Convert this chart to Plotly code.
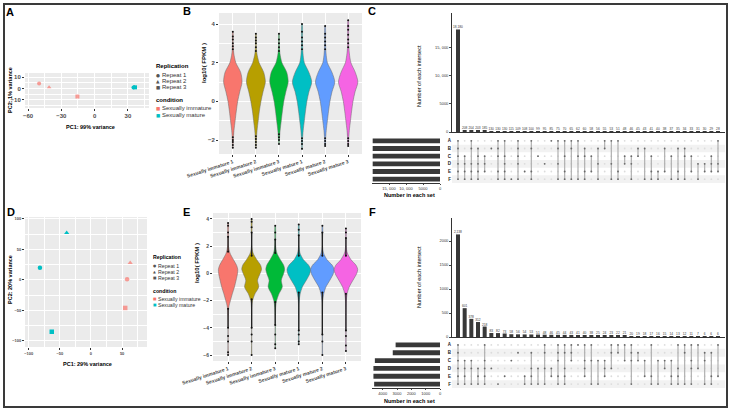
import plotly.graph_objects as go

W, H = 732, 412
FONT = "Liberation Sans"

# ------------------------------------------------------------------ data
samples = ["Sexually immature 1", "Sexually immature 2", "Sexually immature 3",
           "Sexually mature 1", "Sexually mature 2", "Sexually mature 3"]
violin_colors = ["#F8766D", "#B79F00", "#00BA38", "#00BFC4", "#619CFF", "#F564E3"]
replicates = ["Repeat 1", "Repeat 2", "Repeat 3"]
conditions = ["Sexually immature", "Sexually mature"]
cond_colors = ["#F8766D", "#00BFC4"]
rep_symbols = ["circle", "triangle-up", "square"]

# Panel A PCA (PC1 99%, PC2 1%)
a_pc1_immature = [-50.0, -41.0, -15.5]
a_pc2_immature = [4.4, 1.0, -7.0]
a_pc1_mature = [35.0, 35.8, 36.4]
a_pc2_mature = [0.8, 1.4, 1.0]

# Panel D PCA (PC1 29%, PC2 20%)
d_pc1_immature = [58.0, 63.0, 55.0]
d_pc2_immature = [1.0, 28.0, -46.0]
d_pc1_mature = [-82.0, -39.0, -63.0]
d_pc2_mature = [20.0, 77.0, -85.0]

# Panel B violins: half-widths (category units) at log10(FPKM) levels
b_levels = [-2.0, -1.5, -1.0, -0.5, 0.0, 0.5, 1.0, 1.5, 2.0, 2.5, 3.0]
b_halfwidth = [
    [0.02, 0.05, 0.10, 0.15, 0.21, 0.30, 0.40, 0.34, 0.13, 0.04, 0.015],
    [0.02, 0.05, 0.10, 0.15, 0.22, 0.31, 0.41, 0.34, 0.14, 0.04, 0.015],
    [0.02, 0.05, 0.10, 0.15, 0.21, 0.30, 0.40, 0.34, 0.13, 0.04, 0.015],
    [0.02, 0.05, 0.10, 0.15, 0.21, 0.30, 0.42, 0.30, 0.10, 0.04, 0.02],
    [0.02, 0.05, 0.10, 0.15, 0.21, 0.30, 0.42, 0.30, 0.10, 0.04, 0.02],
    [0.02, 0.05, 0.10, 0.15, 0.21, 0.30, 0.42, 0.31, 0.12, 0.05, 0.02],
]
b_min = [-2.4, -2.4, -2.2, -2.5, -2.3, -2.3]
b_max = [3.6, 3.5, 3.5, 4.0, 3.9, 4.2]
b_q1 = [-0.10, 0.00, -0.05, -0.05, -0.05, -0.05]
b_median = [0.72, 0.78, 0.72, 0.72, 0.72, 0.68]
b_q3 = [1.20, 1.22, 1.20, 1.20, 1.20, 1.20]
b_lowerfence = [-1.75, -1.70, -1.60, -1.80, -1.80, -1.80]
b_upperfence = [2.60, 2.50, 2.50, 2.60, 2.60, 2.70]
b_out_high = [[2.7, 2.85, 3.0, 3.2, 3.35, 3.6], [2.6, 2.8, 3.0, 3.15, 3.3, 3.5],
              [2.6, 2.8, 3.0, 3.2, 3.5], [2.7, 2.9, 3.1, 3.3, 3.6, 4.0],
              [2.7, 2.9, 3.1, 3.3, 3.5, 3.9], [2.8, 3.0, 3.2, 3.45, 3.7, 3.9, 4.2]]
b_out_low = [[-1.85, -2.0, -2.1, -2.25, -2.4], [-1.8, -1.95, -2.1, -2.25, -2.4],
             [-1.7, -1.85, -2.0, -2.2], [-1.9, -2.05, -2.2, -2.45],
             [-1.9, -2.05, -2.2, -2.3], [-1.9, -2.05, -2.2, -2.3]]

# Panel E violins
e_levels = [-2.5, -2.0, -1.5, -1.0, -0.5, 0.0, 0.3, 0.6, 1.0, 1.5, 2.0]
e_halfwidth = [
    [0.03, 0.10, 0.18, 0.27, 0.34, 0.40, 0.41, 0.36, 0.23, 0.08, 0.02],
    [0.01, 0.04, 0.14, 0.30, 0.25, 0.36, 0.42, 0.38, 0.22, 0.06, 0.01],
    [0.02, 0.06, 0.16, 0.30, 0.26, 0.36, 0.40, 0.36, 0.22, 0.07, 0.02],
    [0.01, 0.02, 0.06, 0.15, 0.32, 0.47, 0.50, 0.42, 0.20, 0.05, 0.01],
    [0.01, 0.02, 0.06, 0.15, 0.32, 0.47, 0.50, 0.42, 0.20, 0.05, 0.01],
    [0.01, 0.02, 0.05, 0.14, 0.30, 0.46, 0.50, 0.43, 0.22, 0.06, 0.01],
]
e_min = [-6.0, -6.0, -5.5, -5.2, -6.0, -5.7]
e_max = [3.7, 4.0, 3.5, 3.6, 3.5, 3.3]
e_q1 = [-0.95, -0.70, -1.00, -0.38, -0.38, -0.40]
e_median = [-0.25, -0.35, -0.30, 0.10, 0.05, 0.10]
e_q3 = [0.20, 0.05, 0.25, 0.35, 0.35, 0.35]
e_lowerfence = [-2.5, -1.8, -2.1, -1.4, -1.4, -1.5]
e_upperfence = [1.5, 1.2, 1.5, 1.3, 1.3, 1.3]
# dense runs of outliers (start, end) and isolated outliers
e_run_high = [[1.6, 2.7], [1.3, 3.0], [1.5, 2.5], [1.3, 2.8], [1.3, 3.0], [1.3, 2.6]]
e_run_low = [[-2.6, -4.0], [-1.9, -4.0], [-2.1, -3.8], [-1.4, -4.2], [-1.4, -4.5], [-1.5, -4.2]]
e_out_sparse = [[3.0, 3.5, 3.7, -4.6, -5.0, -5.8, -6.0], [3.4, 3.8, 4.0, -4.5, -5.0, -6.0],
                [3.0, 3.5, -4.5, -5.2, -5.5], [3.2, 3.6, -4.5, -5.0, -5.2],
                [3.5, -5.0, -6.0], [3.0, 3.3, -4.6, -5.3, -5.7]]

# Panel C UpSet
set_names = ["A", "B", "C", "D", "E", "F"]
c_set_sizes = [19800, 19800, 19800, 19800, 19800, 19800]
c_values = [18180, 208, 204, 203, 185, 130, 130, 130, 115, 109, 108, 100, 99, 95, 85, 75,
            70, 65, 62, 60, 58, 56, 55, 53, 51, 48, 46, 45, 43, 41, 40, 38, 37, 35, 34, 33,
            31, 30, 29, 28]
c_sets = ["ABCDEF", "CDEF", "ABDEF", "BCDEF", "CDE", "B", "ABCEF", "ACDEF", "F", "ABCDF",
          "E", "ABEF", "C", "D", "A", "ABDF", "ACEF", "ABF", "ACF", "BCEF",
          "CE", "BDF", "AB", "ADF", "AEF", "CD", "CDF", "BC", "BF", "CEF",
          "EF", "BE", "CF", "BEF", "BCF", "CE", "DF", "DE", "CDE", "ADE"]

# Panel F UpSet
f_set_sizes = [3100, 3300, 4550, 4650, 4650, 4600]
f_values = [2138, 601, 378, 312, 218, 83, 82, 73, 58, 56, 54, 53, 51, 48, 46, 45, 44, 43,
            41, 40, 38, 25, 24, 23, 22, 21, 20, 19, 18, 17, 16, 15, 14, 13, 12, 11, 7, 6, 6, 6]
f_sets = ["ABCDEF", "CDEF", "CDF", "DEF", "ACDEF", "D", "F", "E", "C", "B",
          "EF", "BDEF", "DF", "ABDF", "DE", "ABCEF", "ABDEF", "ABC", "A", "ACDE",
          "ACF", "CF", "CDE", "ABD", "AB", "AC", "ABCF", "BC", "CE", "AEF",
          "CF", "CD", "CEF", "ADEF", "ABF", "ACDF", "AD", "BCF", "BEF", "AE"]


# ------------------------------------------------------------------ helpers
def xdom(a, b):
    return [a / W, b / W]


def ydom(top, bottom):
    return [1 - bottom / H, 1 - top / H]


fig = go.Figure()


def ann(text, x, y, size, bold=False, color="#000000", xanchor="center",
        yanchor="middle", angle=0, family=FONT):
    fig.add_annotation(text=text, x=x / W, y=1 - y / H, xref="paper", yref="paper",
                       showarrow=False, textangle=angle, xanchor=xanchor, yanchor=yanchor,
                       borderpad=0,
                       font=dict(size=size, color=color, family=family,
                                 weight="bold" if bold else "normal"))


def gg_axis(domain, rng, tickvals, anchor, fs=6, ticktext=None, minor_vals=None,
            tickangle=0, grid=True):
    d = dict(domain=domain, range=rng, tickvals=tickvals, anchor=anchor,
             automargin=False,
             showgrid=grid, gridcolor="white", gridwidth=0.9, zeroline=False,
             showline=False, ticks="outside", ticklen=2, tickcolor="#333333",
             tickwidth=0.6, tickangle=tickangle,
             tickfont=dict(size=fs, color="#4D4D4D", family=FONT, weight="bold"))
    if ticktext is not None:
        d["ticktext"] = ticktext
    if minor_vals is not None:
        d["minor"] = dict(tickvals=minor_vals, showgrid=True, gridcolor="white",
                          gridwidth=0.45, ticks="")
    return d


def gray_panel(n):
    suffix = "" if n == 1 else str(n)
    fig.add_shape(type="rect", xref=f"x{suffix} domain", yref=f"y{suffix} domain",
                  x0=0, x1=1, y0=0, y1=1, fillcolor="#EBEBEB", line_width=0,
                  layer="below")


# ------------------------------------------------------------------ PCA panels
def pca(xs_imm, ys_imm, xs_mat, ys_mat, xa, ya, size):
    for cx, cy, col, name in [(xs_imm, ys_imm, cond_colors[0], conditions[0]),
                              (xs_mat, ys_mat, cond_colors[1], conditions[1])]:
        fig.add_trace(go.Scatter(x=cx, y=cy, mode="markers", xaxis=xa, yaxis=ya,
                                 showlegend=False, name=name,
                                 marker=dict(color=col, size=size, symbol=rep_symbols,
                                             opacity=0.7 if col == cond_colors[0] else 1,
                                             line_width=0)))


pca(a_pc1_immature, a_pc2_immature, a_pc1_mature, a_pc2_mature, "x", "y", 4)
pca(d_pc1_immature, d_pc2_immature, d_pc1_mature, d_pc2_mature, "x6", "y6", 4.5)


# ------------------------------------------------------------------ violins
def violins(levels, hws, mins, maxs, q1, med, q3, lf, uf, xa, ya):
    for i in range(len(samples)):
        lo, hi = mins[i], maxs[i]
        ys = [lo] + [l for l in levels if lo < l < hi] + [hi]
        ws = [0.008] + [w for l, w in zip(levels, hws[i]) if lo < l < hi] + [0.008]
        xs = [i + w for w in ws] + [i - w for w in reversed(ws)]
        yy = ys + ys[::-1]
        fig.add_trace(go.Scatter(x=xs, y=yy, fill="toself", fillcolor=violin_colors[i],
                                 mode="lines", line=dict(color="#6a6a6a", width=0.5,
                                                         shape="spline", smoothing=0.8),
                                 xaxis=xa, yaxis=ya, showlegend=False, hoverinfo="skip"))
    fig.add_trace(go.Box(x=list(range(len(samples))), q1=q1, median=med, q3=q3,
                         lowerfence=lf, upperfence=uf, xaxis=xa, yaxis=ya, width=0.24,
                         whiskerwidth=0, fillcolor="rgba(0,0,0,0)",
                         line=dict(color="#111111", width=0.7), showlegend=False,
                         boxpoints=False))


violins(b_levels, b_halfwidth, b_min, b_max, b_q1, b_median, b_q3, b_lowerfence,
        b_upperfence, "x2", "y2")
violins(e_levels, e_halfwidth, e_min, e_max, e_q1, e_median, e_q3, e_lowerfence,
        e_upperfence, "x7", "y7")

# outliers panel B
bx, by = [], []
for i in range(len(samples)):
    for v in b_out_high[i] + b_out_low[i]:
        bx.append(i)
        by.append(v)
fig.add_trace(go.Scatter(x=bx, y=by, mode="markers", xaxis="x2", yaxis="y2",
                         marker=dict(color="#111111", size=2.0), showlegend=False))
# outliers panel E
rx, ry = [], []
for i in range(len(samples)):
    for run in (e_run_high[i], e_run_low[i]):
        rx += [i, i, None]
        ry += [run[0], run[1], None]
fig.add_trace(go.Scatter(x=rx, y=ry, mode="lines", xaxis="x7", yaxis="y7",
                         line=dict(color="#222222", width=1.3), showlegend=False))
ex, ey = [], []
for i in range(len(samples)):
    for v in e_out_sparse[i] + e_run_high[i] + e_run_low[i]:
        ex.append(i)
        ey.append(v)
fig.add_trace(go.Scatter(x=ex, y=ey, mode="markers", xaxis="x7", yaxis="y7",
                         marker=dict(color="#111111", size=2.0), showlegend=False))


# ------------------------------------------------------------------ UpSet panels
def fmt(v):
    return f"{v:,}"


def upset(values, sets, sizes, xb, yb, xm, ym, xs, ys):
    n = len(values)
    cols = list(range(n))
    fig.add_trace(go.Bar(x=cols, y=values, xaxis=xb, yaxis=yb, width=0.6,
                         marker_color="#383838", marker_line_width=0,
                         text=[fmt(v) for v in values], textposition="outside",
                         textangle=0, constraintext="none", cliponaxis=False,
                         textfont=dict(size=3.2, color="#333333", family=FONT),
                         showlegend=False))
    gx, gy = [], []
    for j in cols:
        for r in range(len(set_names)):
            gx.append(j)
            gy.append(r)
    fig.add_trace(go.Scatter(x=gx, y=gy, mode="markers", xaxis=xm, yaxis=ym,
                             marker=dict(color="#dcdcdc", size=1.8), showlegend=False))
    lx, ly, dx, dy = [], [], [], []
    for j, s in enumerate(sets):
        rows = [set_names.index(ch) for ch in s]
        if len(rows) > 1:
            lx += [j, j, None]
            ly += [min(rows), max(rows), None]
        for r in rows:
            dx.append(j)
            dy.append(r)
    fig.add_trace(go.Scatter(x=lx, y=ly, mode="lines", xaxis=xm, yaxis=ym,
                             line=dict(color="#b0b0b0", width=1.2), showlegend=False))
    fig.add_trace(go.Scatter(x=dx, y=dy, mode="markers", xaxis=xm, yaxis=ym,
                             marker=dict(color="#6a6a6a", size=1.8), showlegend=False))
    fig.add_trace(go.Bar(y=list(range(len(set_names))), x=sizes, orientation="h",
                         xaxis=xs, yaxis=ys, width=0.62, marker_color="#383838",
                         marker_line_width=0, showlegend=False))
    for r in (1, 3, 5):
        fig.add_shape(type="rect", xref=f"{xm} domain", yref=ym, x0=0, x1=1,
                      y0=r - 0.5, y1=r + 0.5, fillcolor="#F2F2F2", line_width=0,
                      layer="below")


upset(c_values, c_sets, c_set_sizes, "x3", "y3", "x4", "y4", "x5", "y5")
upset(f_values, f_sets, f_set_sizes, "x8", "y8", "x9", "y9", "x10", "y10")

# ------------------------------------------------------------------ axes
lay = {}
lay["xaxis"] = gg_axis(xdom(25, 149), [-62.7, 49], [-60, -30, 0, 30], "y", fs=6,
                       minor_vals=[-45, -15, 15, 45])
lay["yaxis"] = gg_axis(ydom(73, 108), [-17, 13.5], [-10, 0, 10], "x", fs=6,
                       minor_vals=[-15, -5, 5])
lay["xaxis6"] = gg_axis(xdom(25, 147), [-106, 90], [-100, -50, 0, 50], "y6", fs=4,
                        minor_vals=[-75, -25, 25, 75])
lay["yaxis6"] = gg_axis(ydom(217, 347), [-110, 103], [-100, -50, 0, 50, 100], "x6", fs=4,
                        minor_vals=[-75, -25, 25, 75])
lay["xaxis2"] = gg_axis(xdom(219, 362), [-0.6, 5.6], list(range(6)), "y2", fs=5,
                        ticktext=samples, tickangle=-18)
lay["yaxis2"] = gg_axis(ydom(13, 154), [-2.72, 4.57], [-2, 0, 2, 4], "x2", fs=6,
                        minor_vals=[-1, 1, 3])
lay["xaxis7"] = gg_axis(xdom(213, 361), [-0.64, 5.64], list(range(6)), "y7", fs=5,
                        ticktext=samples, tickangle=-18)
lay["yaxis7"] = gg_axis(ydom(213, 361), [-6.44, 4.44], [-6, -4, -2, 0, 2, 4], "x7", fs=5,
                        minor_vals=[-5, -3, -1, 1, 3])

small = dict(size=4.0, color="#333333", family=FONT)


def upset_axes(nb, nm, ns, bar_top, bar_bottom, mat_top, mat_bottom, bar_max, bar_ticks,
               bar_ticktext, size_max, size_ticks, size_ticktext):
    xr = [-0.9, 40.05]
    lay[f"xaxis{nb}"] = dict(domain=xdom(452, 725), range=xr, anchor=f"y{nb}",
                             automargin=False, showticklabels=False, ticks="",
                             showgrid=False, zeroline=False, showline=True,
                             linecolor="#333333", linewidth=0.7)
    lay[f"yaxis{nb}"] = dict(domain=ydom(bar_top, bar_bottom), range=[0, bar_max],
                             anchor=f"x{nb}", automargin=False, tickvals=bar_ticks,
                             ticktext=bar_ticktext, showgrid=False, zeroline=False,
                             showline=True, linecolor="#333333", linewidth=0.7,
                             ticks="outside", ticklen=2, tickwidth=0.6, tickfont=small)
    lay[f"xaxis{nm}"] = dict(domain=xdom(452, 725), range=xr, anchor=f"y{nm}",
                             automargin=False, visible=False)
    lay[f"yaxis{nm}"] = dict(domain=ydom(mat_top, mat_bottom), range=[5.5, -0.5],
                             anchor=f"x{nm}", automargin=False, tickvals=list(range(6)),
                             ticktext=set_names, showgrid=False, zeroline=False,
                             showline=False, ticks="",
                             tickfont=dict(size=4.5, color="#222222", family=FONT,
                                           weight="bold"))
    lay[f"xaxis{ns}"] = dict(domain=xdom(372, 440), range=[size_max, 0],
                             anchor=f"y{ns}", automargin=False, tickvals=size_ticks,
                             ticktext=size_ticktext, showgrid=False, zeroline=False,
                             showline=True, linecolor="#333333", linewidth=0.7,
                             ticks="outside", ticklen=1.5, tickwidth=0.6, tickfont=small)
    lay[f"yaxis{ns}"] = dict(domain=ydom(mat_top, mat_bottom), range=[5.5, -0.5],
                             anchor=f"x{ns}", automargin=False, visible=False)


upset_axes(3, 4, 5, 13, 132, 137, 183, 21100, [0, 5000, 10000, 15000],
           ["0", "5000", "10, 000", "15, 000"], 20000, [0, 5000, 10000, 15000],
           ["0", "5000", "10, 000", "15, 000"])
upset_axes(8, 9, 10, 218, 337, 341, 388, 2480, [0, 500, 1000, 1500, 2000],
           ["0", "500", "1000", "1500", "2000"], 4750, [0, 1000, 2000, 3000, 4000],
           ["0", "1000", "2000", "3000", "4000"])

fig.update_layout(width=W, height=H, autosize=False,
                  margin=dict(l=0, r=0, t=0, b=0, pad=0, autoexpand=False),
                  paper_bgcolor="white", plot_bgcolor="rgba(0,0,0,0)",
                  showlegend=False, font=dict(family=FONT), **lay)

for n in (1, 2, 6, 7):
    gray_panel(n)

fig.add_shape(type="rect", xref="paper", yref="paper", x0=4 / W, x1=727 / W,
              y0=1 - 407 / H, y1=1 - 4 / H, line=dict(color="#3a3a3a", width=2),
              fillcolor="rgba(0,0,0,0)")

# ------------------------------------------------------------------ text
for lab, x, y in [("A", 10, 12), ("B", 187, 11), ("C", 372, 11),
                  ("D", 11, 212), ("E", 186, 212), ("F", 373, 212)]:
    ann(lab, x, y, 11, bold=True)

ann("PC2: 1% variance", 10, 90, 5.5, bold=True, angle=-90)
ann("PC1: 99% variance", 90, 127, 5.5, bold=True)
ann("PC2: 20% variance", 10, 280, 5.5, bold=True, angle=-90)
ann("PC1: 29% variance", 87, 364, 5.5, bold=True)
ann("log10( FPKM )", 204, 63, 6, bold=True, angle=-90)
ann("log10( FPKM )", 197, 263, 6, bold=True, angle=-90)
ann("Number of each intersect", 419, 76, 5.5, angle=-90)
ann("Number of each intersect", 419, 277, 5.5, angle=-90)
ann("Number in each set", 409, 195, 5.5, bold=True)
ann("Number in each set", 409, 401, 5.5, bold=True)


def legend_block(x0, y_rep_title, y_reps, y_cond_title, y_conds, fs, gap):
    ann("Replication", x0, y_rep_title, fs, bold=True, xanchor="left")
    for sym, lab, yy in zip(["●", "▲", "■"], replicates, y_reps):
        ann(sym, x0 + 2.5, yy, fs - 1.5, color="#555555", family="DejaVu Sans")
        ann(lab, x0 + gap, yy, fs, xanchor="left", color="#333333")
    ann("condition", x0, y_cond_title, fs, bold=True, xanchor="left")
    for col, lab, yy in zip(cond_colors, conditions, y_conds):
        ann("■", x0 + 2.5, yy, fs - 1.5, color=col, family="DejaVu Sans")
        ann(lab, x0 + gap, yy, fs, xanchor="left", color="#333333")


legend_block(155, 66, [75, 81, 87], 100, [108, 115], 6, 6)
legend_block(152, 257, [266, 272, 278], 291, [299, 305], 5.2, 5)

fig.write_html("out.html", config={"responsive": False})
